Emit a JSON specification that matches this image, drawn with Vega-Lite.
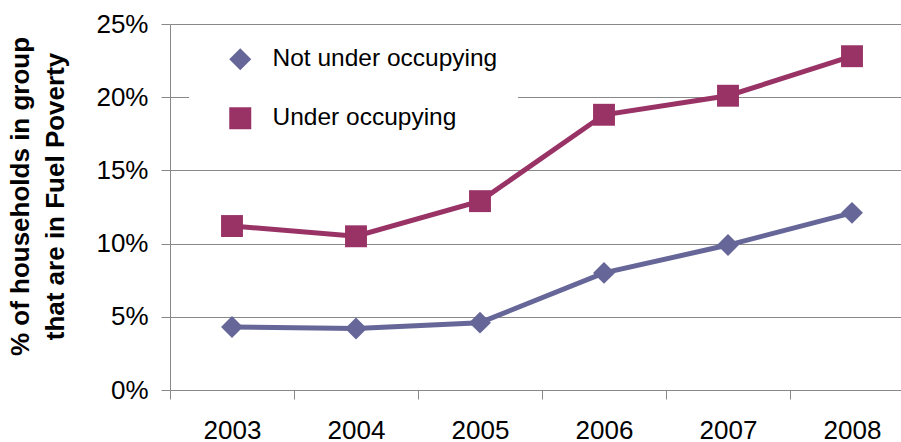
{
  "$schema": "https://vega.github.io/schema/vega-lite/v6.json",
  "autosize": {"type": "none"},
  "padding": {"left": 170, "top": 24, "right": 0, "bottom": 52},
  "width": 731,
  "height": 366,
  "background": "white",
  "config": {
    "view": {"stroke": null},
    "font": "Liberation Sans"
  },
  "data": {
    "values": [
      {"year": "2003", "series": "Not under occupying", "value": 0.043},
      {"year": "2004", "series": "Not under occupying", "value": 0.042},
      {"year": "2005", "series": "Not under occupying", "value": 0.046},
      {"year": "2006", "series": "Not under occupying", "value": 0.080},
      {"year": "2007", "series": "Not under occupying", "value": 0.099},
      {"year": "2008", "series": "Not under occupying", "value": 0.121},
      {"year": "2003", "series": "Under occupying", "value": 0.112},
      {"year": "2004", "series": "Under occupying", "value": 0.105},
      {"year": "2005", "series": "Under occupying", "value": 0.129},
      {"year": "2006", "series": "Under occupying", "value": 0.188},
      {"year": "2007", "series": "Under occupying", "value": 0.201},
      {"year": "2008", "series": "Under occupying", "value": 0.228}
    ]
  },
  "encoding": {
    "x": {
      "field": "year",
      "type": "ordinal",
      "scale": {"type": "band", "range": [0, 744], "paddingInner": 0, "paddingOuter": 0},
      "axis": {
        "title": null,
        "labelAngle": 0,
        "labelFontSize": 26,
        "labelColor": "black",
        "labelPadding": 18,
        "tickBand": "extent",
        "tickSize": 9,
        "tickColor": "#888888",
        "domainColor": "#888888",
        "domain": false,
        "grid": false
      }
    },
    "y": {
      "field": "value",
      "type": "quantitative",
      "scale": {"domain": [0, 0.25], "nice": false, "zero": true},
      "axis": {
        "values": [0, 0.05, 0.1, 0.15, 0.2, 0.25],
        "format": ".0%",
        "labelFontSize": 26,
        "labelColor": "black",
        "labelPadding": 13,
        "tickSize": 9,
        "tickColor": "#888888",
        "domainColor": "#888888",
        "gridColor": "#888888",
        "grid": true,
        "title": ["% of households in group", "that are in Fuel Poverty"],
        "titleFontSize": 26,
        "titleFontWeight": "bold",
        "titleColor": "black",
        "titleLineHeight": 35,
        "titleAngle": -90,
        "titleAlign": "center",
        "titleBaseline": "top",
        "titleX": -163,
        "titleY": 172
      }
    },
    "color": {
      "field": "series",
      "type": "nominal",
      "scale": {"domain": ["Not under occupying", "Under occupying"], "range": ["#666699", "#993366"]},
      "legend": {
        "title": null,
        "orient": "none",
        "legendX": 19,
        "legendY": 3,
        "padding": 20,
        "fillColor": "white",
        "strokeColor": null,
        "labelFontSize": 24.5,
        "labelColor": "black",
        "labelOffset": 20,
        "labelLimit": 400,
        "rowPadding": 34,
        "symbolSize": 484,
        "symbolStrokeWidth": 0,
        "symbolOffset": 19
      }
    }
  },
  "layer": [
    {
      "mark": {"type": "line", "strokeWidth": 5}
    },
    {
      "mark": {"type": "point", "filled": true, "opacity": 1, "size": 480},
      "encoding": {
        "shape": {
          "field": "series",
          "type": "nominal",
          "scale": {"domain": ["Not under occupying", "Under occupying"], "range": ["diamond", "square"]},
          "legend": null
        }
      }
    }
  ]
}
